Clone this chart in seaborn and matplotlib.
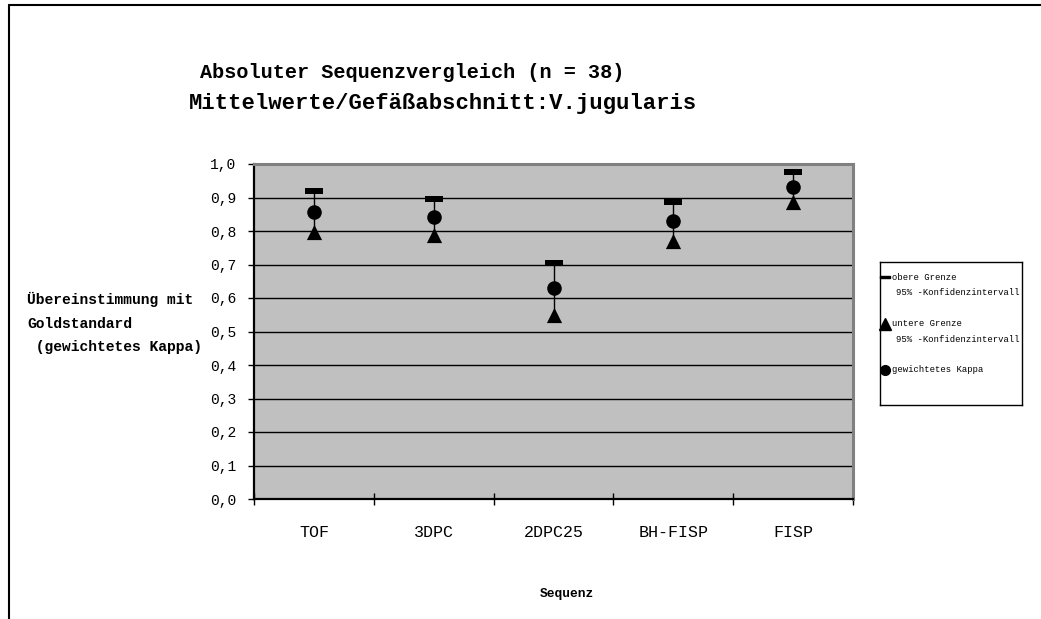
import matplotlib
matplotlib.use("Agg")
import matplotlib.pyplot as plt
import matplotlib.ticker as mticker
from matplotlib.lines import Line2D
from matplotlib.path import Path
import seaborn as sns
import pandas as pd

categories = ["TOF", "3DPC", "2DPC25", "BH-FISP", "FISP"]
upper_ci = [0.919, 0.896, 0.703, 0.888, 0.976]
kappa = [0.858, 0.842, 0.629, 0.830, 0.931]
lower_ci = [0.798, 0.788, 0.549, 0.770, 0.887]
y_ticks = [0.0, 0.1, 0.2, 0.3, 0.4, 0.5, 0.6, 0.7, 0.8, 0.9, 1.0]

title = "Absoluter Sequenzvergleich (n = 38)"
subtitle = "Mittelwerte/Gefäßabschnitt:V.jugularis"
ylabel = "Übereinstimmung mit\nGoldstandard\n (gewichtetes Kappa)"
xlabel = "Sequenz"
legend_first = ["obere Grenze", "untere Grenze", "gewichtetes Kappa"]
legend_second = ["95% -Konfidenzintervall", "95% -Konfidenzintervall", ""]

sns.set_theme(style="ticks")
plt.rcParams["font.family"] = ["Liberation Mono", "DejaVu Sans Mono"]
plt.rcParams["text.color"] = "black"
plt.rcParams["xtick.color"] = "black"
plt.rcParams["ytick.color"] = "black"
plt.rcParams["xtick.labelcolor"] = "black"
plt.rcParams["ytick.labelcolor"] = "black"

fig = plt.figure(figsize=(10.41, 6.19), dpi=100)
ax = fig.add_axes([254 / 1041, 1 - 499 / 619, (853 - 254) / 1041, (499 - 164) / 619])
ax.set_facecolor("#C0C0C0")

df = pd.DataFrame({"Sequenz": categories, "upper": upper_ci, "kappa": kappa, "lower": lower_ci})

bar_marker = Path([(-1, -0.3), (1, -0.3), (1, 0.3), (-1, 0.3), (-1, -0.3)],
                  [Path.MOVETO, Path.LINETO, Path.LINETO, Path.LINETO, Path.CLOSEPOLY])

ax.set_ylim(0, 1.0)
ax.set_yticks(y_ticks)
ax.yaxis.set_major_formatter(mticker.FuncFormatter(lambda v, p: f"{v:.1f}".replace(".", ",")))
for y in y_ticks[1:-1]:
    ax.axhline(y, color="black", lw=1.0, zorder=1)

ax.vlines(df["Sequenz"], df["lower"], df["upper"], color="black", lw=1.0, zorder=2)
sns.scatterplot(data=df, x="Sequenz", y="upper", marker=bar_marker, s=150, color="black",
                edgecolor="black", linewidth=0, ax=ax, zorder=3)
sns.scatterplot(data=df, x="Sequenz", y="lower", marker="^", s=120, color="black",
                edgecolor="black", linewidth=0, ax=ax, zorder=3)
sns.scatterplot(data=df, x="Sequenz", y="kappa", marker="o", s=110, color="black",
                edgecolor="black", linewidth=0, ax=ax, zorder=3)

ax.set_xlim(-0.5, 4.5)
ax.set_xticks(range(len(categories)))
ax.set_xticklabels(categories, fontsize=12)
ax.set_xticks([i - 0.5 for i in range(len(categories) + 1)], minor=True)
ax.tick_params(axis="x", which="major", length=0, pad=19)
ax.tick_params(axis="x", which="minor", bottom=True, length=9, width=1, direction="inout")
ax.tick_params(axis="y", which="major", left=True, length=4.5, width=1, direction="out",
               labelsize=10.5, pad=8)
ax.set_xlabel("")
ax.set_ylabel("")
ax.grid(False)

for s in ["left", "bottom"]:
    ax.spines[s].set_color("black")
    ax.spines[s].set_linewidth(1.6)
for s in ["top", "right"]:
    ax.spines[s].set_color("#808080")
    ax.spines[s].set_linewidth(2.2)
    ax.spines[s].set_visible(True)

fig.text(412 / 1041, 1 - 72 / 619, title, ha="center", va="center", fontsize=14.5, fontweight="bold")
fig.text(443 / 1041, 1 - 104 / 619, subtitle, ha="center", va="center", fontsize=16, fontweight="bold")
fig.text(27 / 1041, 1 - 323 / 619, ylabel, ha="left", va="center", fontsize=10.5, fontweight="bold",
         linespacing=1.9)
fig.text(567 / 1041, 1 - 594 / 619, xlabel, ha="center", va="center", fontsize=9.3, fontweight="bold")

# legend box
lax = fig.add_axes([880 / 1041, 1 - 405 / 619, 142 / 1041, 143 / 619])
lax.set_xlim(0, 142)
lax.set_ylim(143, 0)
lax.set_xticks([])
lax.set_yticks([])
lax.set_facecolor("white")
for s in lax.spines.values():
    s.set_color("black")
    s.set_linewidth(1.0)
    s.set_visible(True)
legend_markers = [(bar_marker, 6.5), ("^", 8), ("o", 7)]
legend_y = [15, 62, 108]
for (mk, ms), ly, l1, l2 in zip(legend_markers, legend_y, legend_first, legend_second):
    lax.plot([5], [ly], marker=mk, color="black", markersize=ms, lw=0, clip_on=False)
    lax.text(11.5, ly, l1, ha="left", va="center", fontsize=6.4)
    if l2:
        lax.text(16, ly + 15.5, l2, ha="left", va="center", fontsize=6.4)

fig.add_artist(Line2D([8.5 / 1041, 8.5 / 1041], [0, 1 - 5 / 619], color="black", lw=1.5,
                      transform=fig.transFigure))
fig.add_artist(Line2D([8.5 / 1041, 1], [1 - 5 / 619, 1 - 5 / 619], color="black", lw=1.5,
                      transform=fig.transFigure))

fig.savefig("out.png", dpi=100, facecolor="white")
